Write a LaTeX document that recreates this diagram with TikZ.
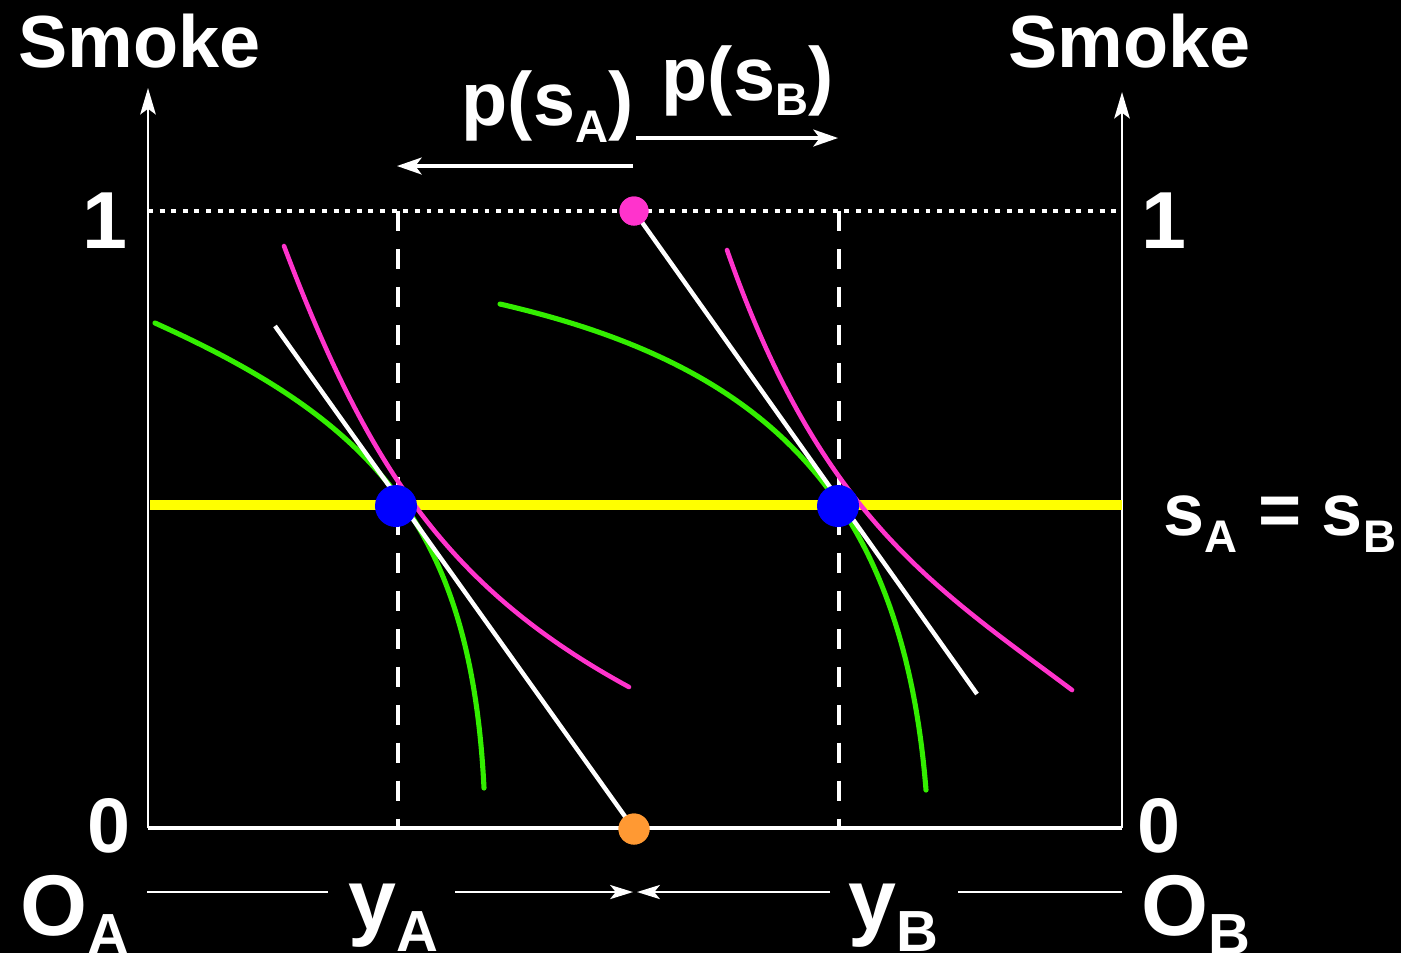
\documentclass[tikz,border=0pt]{standalone}
\usepackage{fontspec}
\setmainfont{Liberation Sans}
\usetikzlibrary{arrows.meta}
\definecolor{grn}{HTML}{33EE00}
\definecolor{mag}{HTML}{FF33CC}
\definecolor{org}{HTML}{FF9933}
\definecolor{blu}{HTML}{0000FF}
\definecolor{yel}{HTML}{FFFF00}
\newcommand\setfs[1]{\fontsize{#1}{#1}\selectfont}
\newcommand\sbx[3]{\raisebox{-#2}{\setfs{#3}#1}}
\begin{document}
\begin{tikzpicture}[x=0.01cm,y=-0.01cm,
  txt/.style={text=white, inner sep=0pt, anchor=base west},
  axisline/.style={white, line width=0.75pt},
  axarrow/.style={-{Stealth[length=7.5pt,width=4.4pt,inset=1.6pt]}},
  toparrow/.style={white, line width=0.95pt, -{Stealth[length=7pt,width=4.8pt,inset=1.8pt]}},
  botline/.style={white, line width=0.7pt},
  botarrow/.style={botline, -{Stealth[length=6.5pt,width=4pt,inset=1.6pt]}},
  dotline/.style={white, line width=1.2pt, dash pattern=on 1.4pt off 1.9pt},
  dashline/.style={white, line width=1.35pt, dash pattern=on 5.7pt off 5.1pt},
  grncurve/.style={grn, line width=1.45pt, line cap=round},
  magcurve/.style={mag, line width=1.3pt, line cap=round},
  budget/.style={white, line width=1.25pt},
  dotmark/.style={circle, inner sep=0pt, minimum size=#1},
]
\fill[black] (0,0) rectangle (1401,953);
\useasboundingbox (0,0) rectangle (1401,953);

% key coordinates
\coordinate (OAc) at (148,828);
\coordinate (OBc) at (1122,828);
\coordinate (topL) at (148,88);
\coordinate (topR) at (1122,92);
\coordinate (oneL) at (148,211);
\coordinate (oneR) at (1122,211);
\coordinate (yAtop) at (398,211);
\coordinate (yAbot) at (398,828);
\coordinate (yBtop) at (839,211);
\coordinate (yBbot) at (839,828);
\coordinate (yelL) at (150,505);
\coordinate (yelR) at (1122,505);

% texts
\node[txt, font={\bfseries\setfs{21pt}}] (smokeL) at (18,67) {Smoke};
\node[txt, font={\bfseries\setfs{21pt}}] (smokeR) at (1008,67) {Smoke};
\node[txt, anchor=base, font={\bfseries\setfs{23pt}}] (oneLt) at (105,248) {1};
\node[txt, anchor=base, font={\bfseries\setfs{23pt}}] (oneRt) at (1164,248) {1};
\node[txt, anchor=base, font={\bfseries\setfs{22pt}}] (zeroL) at (109,852) {0};
\node[txt, anchor=base, font={\bfseries\setfs{22pt}}] (zeroR) at (1159,852) {0};
\node[txt, font={\bfseries\setfs{21.5pt}}] (psA) at (461,125) {p(s\sbx{A}{5pt}{13pt})};
\node[txt, font={\bfseries\setfs{21.5pt}}] (psB) at (661,100) {p(s\sbx{B}{4.3pt}{13pt})};
\node[txt, font={\bfseries\setfs{21pt}}] (eq) at (1163,535) {s\sbx{A}{5pt}{13pt} = s\sbx{B}{5pt}{13pt}};
\node[txt, font={\bfseries\setfs{24.5pt}}] (OA) at (20,935) {O\sbx{A}{5.5pt}{16.5pt}};
\node[txt, font={\bfseries\setfs{24.5pt}}] (yA) at (348,929) {y\sbx{A}{6.5pt}{16.5pt}};
\node[txt, font={\bfseries\setfs{24.5pt}}] (yB) at (848,929) {y\sbx{B}{6.5pt}{16.5pt}};
\node[txt, font={\bfseries\setfs{24.5pt}}] (OB) at (1141,935) {O\sbx{B}{5.5pt}{16.5pt}};

% axes
\draw[axisline, axarrow] (OAc) -- (topL);
\draw[axisline, axarrow] (OBc) -- (topR);
\draw[white, line width=0.95pt] (OAc) -- (OBc);
\draw[dotline] (oneL) -- (oneR);
\draw[dashline] (yAtop) -- (yAbot);
\draw[dashline] (yBtop) -- (yBbot);

% top price arrows
\coordinate (pAstart) at (633,166);
\coordinate (pAend) at (397,166);
\coordinate (pBstart) at (636,138);
\coordinate (pBend) at (838,138);
\draw[toparrow] (pAstart) -- (pAend);
\draw[toparrow] (pBstart) -- (pBend);

% bottom arrows
\coordinate (b1) at (147,892);
\coordinate (b2) at (328,892);
\coordinate (b3) at (455,892);
\coordinate (b4) at (633,892);
\coordinate (b5) at (830,892);
\coordinate (b6) at (637,892);
\coordinate (b7) at (958,892);
\coordinate (b8) at (1122,892);
\draw[botline] (b1) -- (b2);
\draw[botarrow] (b3) -- (b4);
\draw[botarrow] (b5) -- (b6);
\draw[botline] (b7) -- (b8);

% yellow line
\draw[yel, line width=3pt] (yelL) -- (yelR);

% dots at ends of budget lines
\node[dotmark=2.9mm, fill=mag] (pm) at (634,211) {};
\node[dotmark=3.1mm, fill=org] (po) at (634,829) {};
\coordinate (wL) at (275,326);
\coordinate (wR) at (977,694);

% curves left
\draw[grncurve] (155,323) .. controls (375,422) and (471,528) .. (484,788);
\draw[budget] (wL) -- (po.center);
\draw[magcurve] (284,246) .. controls (368,468) and (449,589) .. (629,687);

% curves right
\draw[grncurve] (500,304) .. controls (760,364) and (902,490) .. (926,790);
\draw[budget] (pm.center) -- (wR);
\draw[magcurve] (727,250) .. controls (820,517) and (937,589) .. (1072,690);

% redraw end dots on top
\node[dotmark=2.9mm, fill=mag] at (pm) {};
\node[dotmark=3.1mm, fill=org] at (po) {};

% equilibrium points
\node[dotmark=4.2mm, fill=blu] (eA) at (396,506) {};
\node[dotmark=4.2mm, fill=blu] (eB) at (838,506) {};
\end{tikzpicture}
\end{document}
